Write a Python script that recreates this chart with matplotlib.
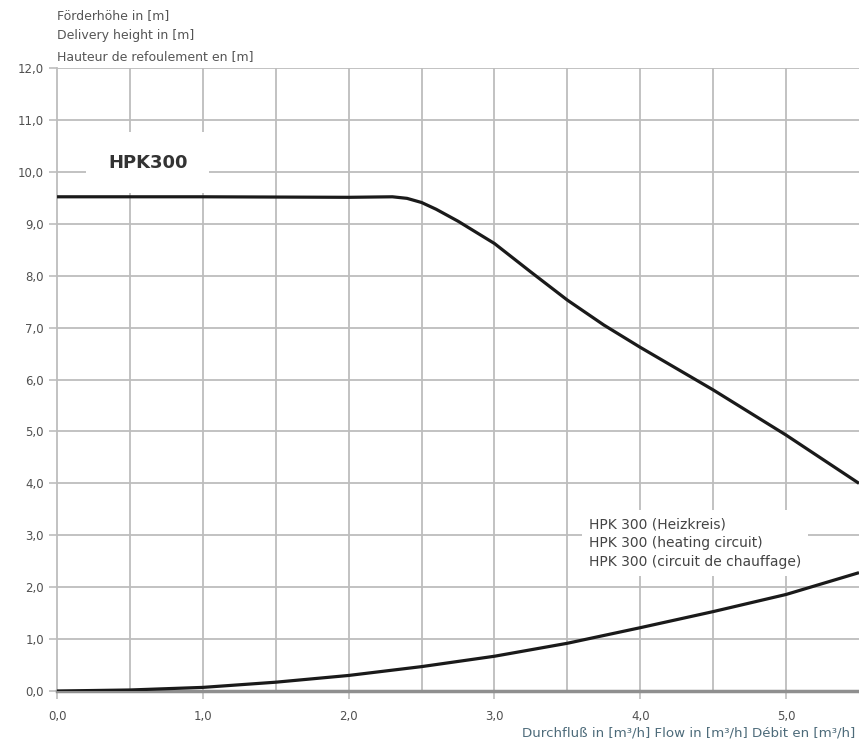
import numpy as np
import matplotlib.pyplot as plt

# Pump curve (Förderhöhe over Durchfluss)
flow_pump = [0.0, 1.0, 2.0, 2.3, 2.4, 2.5, 2.6, 2.75, 3.0, 3.25, 3.5, 3.75, 4.0, 4.5, 5.0, 5.5]
head_pump = [9.52, 9.52, 9.51, 9.52, 9.49, 9.41, 9.28, 9.05, 8.62, 8.07, 7.53, 7.05, 6.62, 5.8, 4.93, 4.0]

# System curve (heating circuit)
flow_sys = [0.0, 0.5, 1.0, 1.5, 2.0, 2.5, 3.0, 3.5, 4.0, 4.5, 5.0, 5.5]
head_sys = [0.0, 0.02, 0.07, 0.17, 0.3, 0.47, 0.67, 0.92, 1.22, 1.53, 1.86, 2.28]

xticks = [0.0, 1.0, 2.0, 3.0, 4.0, 5.0]
yticks = np.arange(0, 13, 1.0)
ylabel_lines = ["Förderhöhe in [m]", "Delivery height in [m]", "Hauteur de refoulement en [m]"]
legend_lines = ["HPK 300 (Heizkreis)", "HPK 300 (heating circuit)", "HPK 300 (circuit de chauffage)"]
xlabel = "Durchfluß in [m³/h] Flow in [m³/h] Débit en [m³/h]"

grid_col = "#bdbdbd"
text_col = "#505050"

fig = plt.figure(figsize=(8.59, 7.42), dpi=100)
ax = fig.add_axes([0.0664, 0.0687, 0.9336, 0.8396])

ax.set_xlim(0, 5.5)
ax.set_ylim(0, 12)

# grid every 0.5 in x, 1.0 in y
for gx in np.arange(0.5, 5.5, 0.5):
    ax.axvline(gx, color=grid_col, lw=1.3, zorder=1)
for gy in yticks[1:]:
    ax.axhline(gy, color=grid_col, lw=1.3, zorder=1)

for s in ["top", "right"]:
    ax.spines[s].set_visible(False)
ax.spines["left"].set_color(grid_col)
ax.spines["left"].set_linewidth(1.3)
ax.spines["bottom"].set_color("#8f8f8f")
ax.spines["bottom"].set_linewidth(2.5)

ax.set_xticks(xticks)
ax.set_xticklabels([f"{v:.1f}".replace(".", ",") for v in xticks])
ax.set_yticks(yticks)
ax.set_yticklabels([f"{v:.1f}".replace(".", ",") for v in yticks])
ax.tick_params(axis="both", colors=grid_col, labelcolor=text_col, labelsize=8.5,
               length=6, width=1.2, direction="out")
ax.tick_params(axis="x", pad=8)

ax.plot(flow_pump, head_pump, color="#1a1a1a", lw=2.3, zorder=4,
        solid_capstyle="butt", solid_joinstyle="round")
ax.plot(flow_sys, head_sys, color="#1a1a1a", lw=2.3, zorder=4,
        solid_capstyle="butt", solid_joinstyle="round")

ax.text(0.35, 10.18, "HPK300", fontsize=13, fontweight="bold", color="#333333",
        ha="left", va="center", zorder=3,
        bbox=dict(facecolor="white", edgecolor="none", boxstyle="square,pad=1.2"))

ax.text(3.65, 2.85, "\n".join(legend_lines), fontsize=10, color="#444444",
        ha="left", va="center", linespacing=1.45, zorder=3,
        bbox=dict(facecolor="white", edgecolor="none", boxstyle="square,pad=0.5"))

fig.text(0.066, 0.988, "\n".join(ylabel_lines), fontsize=9, color="#555555",
         ha="left", va="top", linespacing=1.75)
fig.text(0.996, 0.004, xlabel, fontsize=9.6, color="#4d6b7a", ha="right", va="bottom")

fig.savefig("out.png", dpi=100)
